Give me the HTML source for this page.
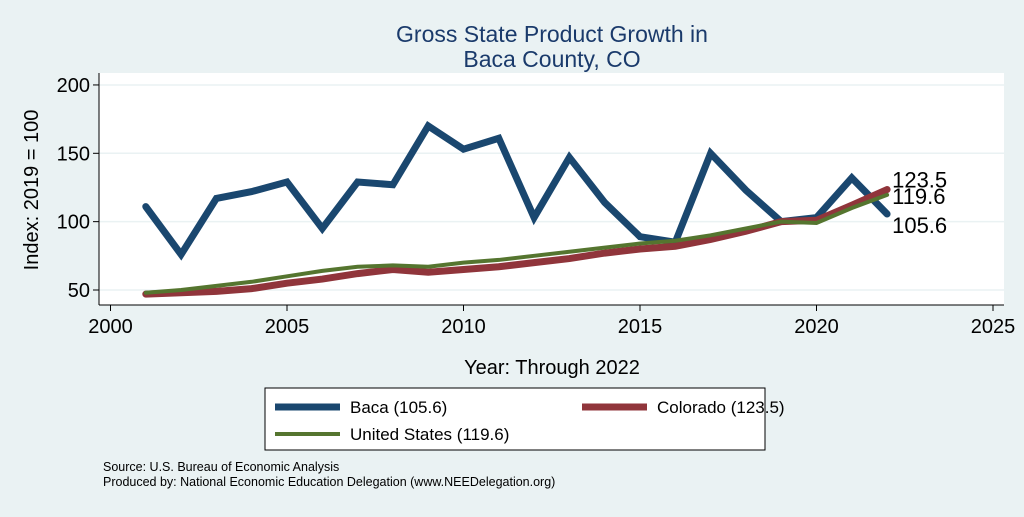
<!DOCTYPE html>
<html><head><meta charset="utf-8"><style>
body{margin:0;background:#eaf2f3;font-family:"Liberation Sans",Arial,sans-serif;}
svg text{font-family:"Liberation Sans",Arial,sans-serif;}
</style></head><body>
<svg width="1024" height="512" viewBox="0 0 1024 512" id="chart">
<rect x="0" y="0" width="1024" height="512" fill="#eaf2f3"/>
<text x="552" y="42" text-anchor="middle" font-size="23" fill="#1a3a6b">Gross State Product Growth in</text>
<text x="552" y="67" text-anchor="middle" font-size="23" fill="#1a3a6b">Baca County, CO</text>
<rect x="99" y="73" width="905" height="232" fill="#fff"/>
<g id="grid"></g><g id="axes"></g><g id="series"></g>
<text x="552" y="374" text-anchor="middle" font-size="20" fill="#000">Year: Through 2022</text>
<text transform="translate(38,190) rotate(-90)" text-anchor="middle" font-size="20" fill="#000">Index: 2019 = 100</text>
<g>
<rect x="265" y="388" width="500" height="62" fill="#fff" stroke="#000" stroke-width="1"/>
<g><line x1="275" y1="407" x2="340" y2="407" stroke="#1a476f" stroke-width="7"/><text x="350" y="413" font-size="17">Baca  (105.6)</text></g>
<g><line x1="582" y1="407" x2="647" y2="407" stroke="#90353b" stroke-width="7"/><text x="657" y="413" font-size="17">Colorado (123.5)</text></g>
<g><line x1="275" y1="434" x2="340" y2="434" stroke="#55752f" stroke-width="4"/><text x="350" y="440" font-size="17">United States (119.6)</text></g>
</g>
<text x="103" y="471" font-size="12.5">Source: U.S. Bureau of Economic Analysis</text>
<text x="103" y="486" font-size="12.5">Produced by: National Economic Education Delegation (www.NEEDelegation.org)</text>
</svg>
<script>
const years=[2001,2002,2003,2004,2005,2006,2007,2008,2009,2010,2011,2012,2013,2014,2015,2016,2017,2018,2019,2020,2021,2022];
const baca=[111,76,117,122,129,95,129,127,170,153,161,103,147,114,89,85,150,123,100,103,132,105.6];
const colorado=[47,48,49,51,55,58,62,65,63,65,67,70,73,77,80,82,87,93,100,101,112,123.5];
const us=[48,50,53,56,60,64,67,68,67,70,72,75,78,81,84,86,90,95,100,99,110,119.6];
const xTicks=[2000,2005,2010,2015,2020,2025];
const yTicks=[50,100,150,200];
const NS='http://www.w3.org/2000/svg';
const xs=v=>110.5+(v-2000)*35.3;
const ys=v=>290-(v-50)*1.367;
function mk(tag,attrs,parent){const e=document.createElementNS(NS,tag);for(const k in attrs)e.setAttribute(k,attrs[k]);parent.appendChild(e);return e;}
const grid=document.getElementById('grid'),axes=document.getElementById('axes'),ser=document.getElementById('series');
yTicks.forEach(t=>{
 const g=mk('line',{x1:99,x2:1004,y1:ys(t),y2:ys(t),stroke:'#eaf2f3','stroke-width':1.5},grid);
 
 
 const tk=mk('line',{x1:93,x2:99,y1:ys(t),y2:ys(t),stroke:'#000'},axes);
 
 
 const tx=mk('text',{x:90,y:ys(t)+7,'text-anchor':'end','font-size':20},axes);
 tx.textContent=t;
 
 
});
xTicks.forEach(t=>{
 const tk=mk('line',{x1:xs(t),x2:xs(t),y1:305,y2:311,stroke:'#000'},axes);
 
 
 const tx=mk('text',{x:xs(t),y:333,'text-anchor':'middle','font-size':20},axes);
 tx.textContent=t;
 
 
});
const ya=mk('line',{x1:99,x2:99,y1:73,y2:305,stroke:'#000'},axes);


const xa=mk('line',{x1:99,x2:1004,y1:305,y2:305,stroke:'#000'},axes);


function line(vals,color,w,name){
 const p=mk('polyline',{points:vals.map((v,i)=>xs(years[i])+','+ys(v)).join(' '),fill:'none',stroke:color,'stroke-width':w,'stroke-linejoin':'miter','stroke-linecap':'round'},ser);
 
 
}
line(baca,'#1a476f',7,'baca-line');
line(colorado,'#90353b',7,'colorado-line');
line(us,'#55752f',4,'us-line');
const lx=xs(years[years.length-1])+5;
[[colorado,-2,'colorado-end-label'],[us,9,'us-end-label'],[baca,19,'baca-end-label']].forEach(([a,d,n])=>{
 const v=a[a.length-1];
 const t=mk('text',{x:lx,y:ys(v)+d,'font-size':22},ser);
 t.textContent=v.toFixed(1);
 
 
});
</script>
</body></html>
